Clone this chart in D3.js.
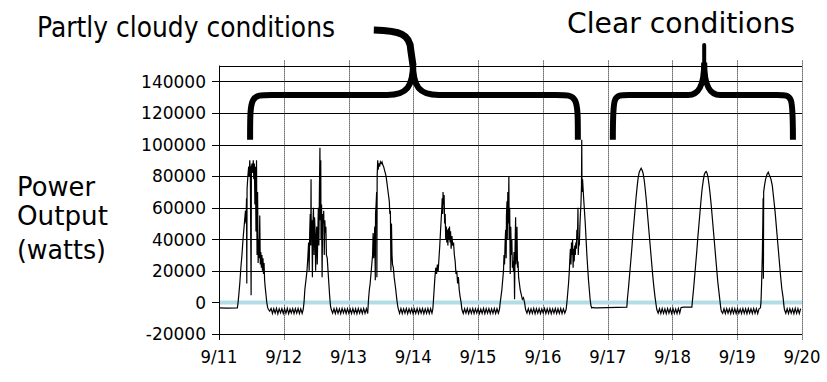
<!DOCTYPE html>
<html>
<head>
<meta charset="utf-8">
<script src="https://cdn.jsdelivr.net/npm/d3@7"></script>
<style>
  body { margin: 0; background: #fff; }
  svg { display: block; font-family: "DejaVu Sans", Verdana, sans-serif; }
</style>
</head>
<body>
<svg id="chart" width="827" height="382"></svg>
<script>
// tick labels
const dateLabels = ["9/11", "9/12", "9/13", "9/14", "9/15", "9/16", "9/17", "9/18", "9/19", "9/20"];
const yTicks = [-20000, 0, 20000, 40000, 60000, 80000, 100000, 120000, 140000];

// daylight readings per day: [hour of day, watts]
const sep11 = [[0,-3500],[3,-3600],[6.8,-3500],[7.0,-1000],[7.3,4000],[7.7,12000],[8.1,22000],[8.5,30000],[8.9,40000],[9.2,46000],[9.5,52000],[9.8,58000],[10.0,50000],[10.2,66000],[10.3,12000],[10.4,72000],[10.7,80000],[11.0,86000],[11.2,80000],[11.4,90000],[11.6,84000],[11.9,4600],[12.0,86000],[12.3,88000],[12.5,82000],[12.7,90000],[12.9,78000],[13.1,88000],[13.3,62000],[13.5,86000],[13.7,45000],[13.9,90000],[14.1,30000],[14.3,70000],[14.5,25000],[14.7,40000],[14.9,28000],[15.1,55000],[15.3,24000],[15.5,32000],[15.7,22000],[15.9,30000],[16.1,20000],[16.3,28000],[16.5,18000],[16.7,25000],[16.9,14000],[17.1,10000],[17.4,5000],[17.7,0],[18.0,-3000],[18.3,-4500]];
const sep12 = [[7.2,-4500],[7.5,0],[7.8,8000],[8.2,14000],[8.6,20000],[8.9,28000],[9.2,38000],[9.4,20000],[9.6,44000],[9.8,56000],[10.0,36000],[10.1,78000],[10.2,40000],[10.4,52000],[10.6,16000],[10.8,50000],[11.0,60000],[11.2,30000],[11.4,54000],[11.6,46000],[11.8,20000],[12.0,40000],[12.2,48000],[12.4,24000],[12.6,42000],[12.8,60000],[13.0,36000],[13.2,70000],[13.4,98000],[13.5,52000],[13.7,90000],[13.8,40000],[14.0,62000],[14.2,16000],[14.4,56000],[14.6,50000],[14.8,58000],[15.0,30000],[15.2,52000],[15.4,44000],[15.6,48000],[15.8,30000],[16.1,28000],[16.4,20000],[16.7,12000],[17.0,4000],[17.3,-2000],[17.6,-4500]];
const sep13 = [[7.2,-4000],[7.4,2000],[7.7,8000],[8.0,12000],[8.3,18000],[8.6,24000],[8.9,30000],[9.1,44000],[9.3,28000],[9.5,36000],[9.7,48000],[9.9,14000],[10.0,56000],[10.2,62000],[10.4,70000],[10.5,16000],[10.6,80000],[10.8,90000],[11.0,84000],[11.2,88000],[11.5,86000],[11.8,89000],[12.1,88000],[12.4,89000],[12.7,87000],[13.0,86000],[13.3,84000],[13.6,82000],[13.9,80000],[14.2,76000],[14.5,72000],[14.8,68000],[15.1,64000],[15.3,56000],[15.5,58000],[15.7,20000],[15.9,50000],[16.1,30000],[16.3,24000],[16.6,22000],[16.9,16000],[17.2,12000],[17.5,8000],[17.8,3000],[18.1,-1000],[18.4,-4000]];
const sep14 = [[7.2,-4500],[7.4,0],[7.7,8000],[8.0,16000],[8.3,22000],[8.6,18000],[8.9,24000],[9.2,20000],[9.5,28000],[9.8,36000],[10.1,46000],[10.3,52000],[10.5,58000],[10.7,66000],[10.9,56000],[11.0,70000],[11.2,62000],[11.4,68000],[11.6,50000],[11.8,56000],[12.0,40000],[12.2,48000],[12.4,38000],[12.6,46000],[12.8,36000],[13.0,47000],[13.2,40000],[13.4,48000],[13.6,38000],[13.8,45000],[14.0,34000],[14.3,42000],[14.6,36000],[14.9,38000],[15.2,30000],[15.5,26000],[15.8,18000],[16.1,20000],[16.4,12000],[16.7,16000],[17.0,8000],[17.3,4000],[17.7,0],[18.0,-4500]];
const sep15 = [[7.9,-4500],[8.2,0],[8.5,4000],[8.8,8000],[9.1,14000],[9.4,20000],[9.6,30000],[9.8,24000],[10.0,38000],[10.2,46000],[10.4,28000],[10.5,55000],[10.7,64000],[10.8,40000],[11.0,70000],[11.2,50000],[11.4,80000],[11.5,40000],[11.7,60000],[11.9,18000],[12.1,48000],[12.3,30000],[12.5,40000],[12.7,22000],[12.9,26000],[13.1,20000],[13.3,32000],[13.5,2000],[13.7,36000],[13.9,54000],[14.0,24000],[14.2,30000],[14.4,48000],[14.6,22000],[14.8,26000],[15.0,16000],[15.3,12000],[15.6,8000],[16.0,5000],[16.4,2000],[16.8,3000],[17.2,0],[17.6,-4500]];
const sep16 = [[8.6,-4500],[8.9,0],[9.2,6000],[9.5,12000],[9.8,20000],[10.0,28000],[10.2,34000],[10.4,24000],[10.6,38000],[10.8,30000],[11.0,40000],[11.2,22000],[11.4,34000],[11.6,26000],[11.8,36000],[12.0,30000],[12.2,38000],[12.4,34000],[12.6,46000],[12.8,40000],[13.0,60000],[13.1,30000],[13.3,38000],[13.5,36000],[13.7,48000],[13.9,56000],[14.1,62000],[14.3,74000],[14.4,103000],[14.5,70000],[14.7,78000],[14.9,72000],[15.1,66000],[15.4,58000],[15.7,50000],[16.0,40000],[16.3,30000],[16.6,22000],[16.9,14000],[17.2,8000],[17.5,2000],[17.8,-2000],[18.1,-3500]];
const sep17 = [[7.1,-3000],[7.3,2000],[7.7,9000],[8.1,17000],[8.5,25000],[8.9,33000],[9.3,42000],[9.7,50000],[10.1,58000],[10.5,66000],[10.9,73000],[11.3,79000],[11.7,82500],[12.1,84000],[12.4,85000],[12.7,84000],[13.1,82000],[13.5,78000],[13.9,72000],[14.3,65000],[14.7,57000],[15.1,49000],[15.5,41000],[15.9,33000],[16.3,25000],[16.7,17000],[17.1,10000],[17.5,4000],[17.9,-1000],[18.2,-4500]];
const sep18 = [[7.2,-3000],[7.4,1000],[7.8,8000],[8.2,16000],[8.6,24000],[9.0,32000],[9.4,41000],[9.8,49000],[10.2,57000],[10.6,65000],[11.0,72000],[11.4,77000],[11.8,81000],[12.2,82500],[12.5,83000],[12.8,82000],[13.2,79000],[13.6,74000],[14.0,68000],[14.4,61000],[14.8,53000],[15.2,45000],[15.6,37000],[16.0,29000],[16.4,21000],[16.8,13000],[17.2,7000],[17.6,1000],[17.9,-3500],[18.1,-5500]];
const sep19 = [[8.6,-3500],[8.8,0],[9.0,10000],[9.3,30000],[9.5,52000],[9.6,66000],[9.7,15000],[9.8,70000],[10.1,74000],[10.5,78000],[11.0,81000],[11.5,82500],[11.8,81000],[12.1,80000],[12.5,78000],[13.0,74000],[13.5,66000],[14.0,58000],[14.5,48000],[15.0,38000],[15.5,28000],[16.0,18000],[16.5,9000],[17.0,3000],[17.3,-2000],[17.5,-4500]];

// night readings, every half hour after the last daylight reading
const eve11 = [-5500,-3800,-7000,-4000,-6800,-3700,-7200,-4100,-6600,-3900,-7000,-4000,-6900,-3800,-7100,-4200,-6700,-3900,-7000,-4000,-6800,-3800,-7000,-4100,-6900];
const eve12 = [-6800,-4000,-7000,-3900,-6900,-4100,-7100,-3800,-6700,-4000,-7000,-3900,-6800,-4200,-7000,-3800,-6900,-4000,-7100,-3900,-6800,-4100,-7000,-3800,-6900,-4000,-7000];
const eve13 = [-6900,-3900,-7000,-4100,-6800,-3800,-7100,-4000,-6700,-3900,-7000,-4200,-6900,-3800,-7000,-4000,-6800,-3900,-7100,-4100,-6900,-3800,-7000,-4000,-6800];
const eve14 = [-7000,-4000,-6800,-3900,-7100,-4100,-6900,-3800,-7000,-4000,-6700,-3900,-7000,-4200,-6900,-3800,-7100,-4000,-6800,-3900,-7000,-4100,-6900,-3800,-7000,-4000,-6800];
const eve15 = [-6800,-3900,-7000,-4100,-6900,-3800,-7100,-4000,-6800,-3900,-7000,-4200,-6700,-3800,-7000,-4000,-6900,-3900,-7100,-4100,-6800,-3800,-7000,-4000,-6900,-3900,-7000,-4100,-6800];
const eve16 = [-3200,-3400,-3500,-3500];
const eve17 = [-6800,-4000,-7000,-3900,-6900,-4100,-7100,-3800,-6800,-4000,-7000,-3900,-6900,-4200,-7000,-3800,-6800,-3200,-3100,-3000];
const eve18 = [-6900,-4000,-7000,-3900,-6800,-4100,-7100,-3800,-6900,-4000,-7000,-3900,-6800,-4200,-7000,-3800,-6900,-4000,-7100,-3900,-6800,-4100,-7000,-3800,-6900,-4000,-7000,-3900];
const eve19 = [-6900,-4000,-7000,-3900,-6800,-4100,-7100,-3800,-6900,-4000,-7000,-3900,-6800];

const days = [sep11, sep12, sep13, sep14, sep15, sep16, sep17, sep18, sep19];
const evenings = [eve11, eve12, eve13, eve14, eve15, eve16, eve17, eve18, eve19];

const svg = d3.select("#chart");

const x = d3.scaleLinear().domain([0, 9]).range([219, 802]);
const y = d3.scaleLinear().domain([-20000, 150000]).range([334, 65.6]);
const px = v => Math.round(v) + 0.5;

// series in days since 9/11 00:00
const points = [];
days.forEach((day, i) => {
    day.forEach(([h, w]) => points.push([i + h / 24, w]));
    const last = day[day.length - 1][0];
    const next = i < days.length - 1 ? i + 1 + days[i + 1][0][0] / 24 : 9;
    evenings[i].forEach((w, j) => {
        const t = i + (last + 0.5 * (j + 1)) / 24;
        if (t < next) points.push([t, w]);
    });
});

// vertical grid (dotted)
svg.append("g")
    .selectAll("line")
    .data(d3.range(1, 10))
    .join("line")
        .attr("x1", d => px(x(d))).attr("x2", d => px(x(d)))
        .attr("y1", y(150000) - 5).attr("y2", y(-20000) + 6)
        .attr("stroke", "#111")
        .attr("stroke-dasharray", "1,1");

// horizontal grid
svg.append("g")
    .selectAll("line")
    .data(yTicks.filter(d => d !== 0).concat([150000]))
    .join("line")
        .attr("x1", d => d === 150000 ? 219 : 212).attr("x2", 802)
        .attr("y1", d => px(y(d))).attr("y2", d => px(y(d)))
        .attr("stroke", "#000");

// zero line
svg.append("line")
    .attr("x1", 219).attr("x2", 802)
    .attr("y1", y(0)).attr("y2", y(0))
    .attr("stroke", "#b3dde6")
    .attr("stroke-width", 4);
svg.append("line")
    .attr("x1", 212).attr("x2", 219)
    .attr("y1", px(y(0))).attr("y2", px(y(0)))
    .attr("stroke", "#000");

// left axis line
svg.append("line")
    .attr("x1", px(x(0))).attr("x2", px(x(0)))
    .attr("y1", y(150000)).attr("y2", y(-20000) + 6)
    .attr("stroke", "#000");

// power line
svg.append("path")
    .datum(points)
    .attr("fill", "none")
    .attr("stroke", "#000")
    .attr("stroke-width", 1.2)
    .attr("d", d3.line().x(d => x(d[0])).y(d => y(d[1])));

// tick labels
svg.append("g")
    .selectAll("text")
    .data(yTicks)
    .join("text")
        .attr("x", 206)
        .attr("y", d => y(d))
        .attr("dy", "0.37em")
        .attr("text-anchor", "end")
        .attr("font-size", 17)
        .text(d => d);

svg.append("g")
    .selectAll("text")
    .data(dateLabels)
    .join("text")
        .attr("x", (d, i) => x(i))
        .attr("y", 363)
        .attr("text-anchor", "middle")
        .attr("font-size", 17)
        .attr("textLength", 37)
        .attr("lengthAdjust", "spacingAndGlyphs")
        .text(d => d);

// axis title
svg.append("g")
    .selectAll("text")
    .data([["Power", 196, 78], ["Output", 225, 91], ["(watts)", 259, 89]])
    .join("text")
        .attr("x", 17)
        .attr("y", d => d[1])
        .attr("font-size", 26)
        .attr("textLength", d => d[2])
        .attr("lengthAdjust", "spacingAndGlyphs")
        .text(d => d[0]);

// annotations
svg.append("text")
    .attr("x", 37).attr("y", 37)
    .attr("font-size", 28)
    .attr("textLength", 298)
    .attr("lengthAdjust", "spacingAndGlyphs")
    .text("Partly cloudy conditions");
svg.append("text")
    .attr("x", 567).attr("y", 33)
    .attr("font-size", 28)
    .attr("textLength", 228)
    .attr("lengthAdjust", "spacingAndGlyphs")
    .text("Clear conditions");

const brace = (d0, dm, d1, r, r2) => {
    const x0 = x(d0), xm = x(dm), x1 = x(d1);
    const yEnd = y(103000), yBar = y(131400), yTip = y(152000);
    return `M${x0},${yEnd} C${x0},${yBar} ${x0},${yBar} ${x0 + r},${yBar}
        L${xm - r2},${yBar} C${xm - 6},${yBar} ${xm},${yBar - 8} ${xm},${yTip}
        C${xm},${yBar - 8} ${xm + 6},${yBar} ${xm + r2},${yBar}
        L${x1 - r},${yBar} C${x1},${yBar} ${x1},${yBar} ${x1},${yEnd}`;
};

svg.append("path")
    .attr("d", brace(0.48, 2.995, 5.54, 22, 26))
    .attr("fill", "none").attr("stroke", "#000").attr("stroke-width", 6);
svg.append("path")
    .attr("d", `M${x(2.39)},${y(172500)} C${x(2.8)},${y(172000)} ${x(2.95)},${y(170000)} ${x(2.96)},${y(160000)} L${x(2.995)},${y(150000)}`)
    .attr("fill", "none").attr("stroke", "#000").attr("stroke-width", 7);

svg.append("path")
    .attr("d", brace(6.08, 7.49, 8.86, 16, 16))
    .attr("fill", "none").attr("stroke", "#000").attr("stroke-width", 6);
svg.append("path")
    .attr("d", `M${x(7.49)},${y(150000)} L${x(7.49)},${y(163000)}`)
    .attr("fill", "none").attr("stroke", "#000").attr("stroke-width", 4)
    .attr("stroke-linecap", "round");
</script>
</body>
</html>
